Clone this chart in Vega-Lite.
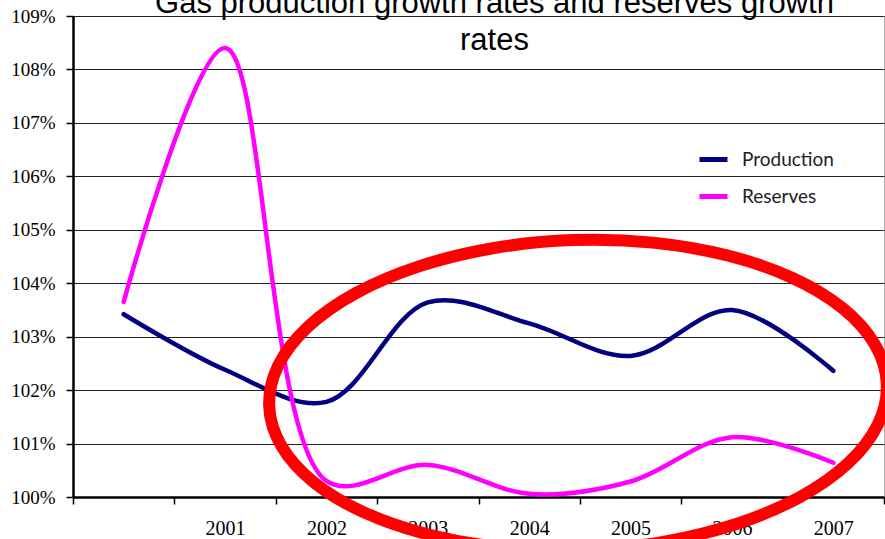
{
  "$schema": "https://vega.github.io/schema/vega-lite/v6.json",
  "width": 811,
  "height": 481,
  "autosize": {"type": "none"},
  "padding": {"left": 73, "top": 16, "right": 1, "bottom": 42},
  "background": "white",
  "config": {"view": {"stroke": "#b0b0b0", "strokeWidth": 1}},
  "title": {
    "text": ["Gas production growth rates and reserves growth", "rates"],
    "font": "Liberation Sans",
    "fontSize": 31,
    "fontWeight": "normal",
    "color": "#000000",
    "anchor": "middle",
    "lineHeight": 37,
    "offset": -50,
    "dx": 16
  },
  "datasets": {
    "series": [
      {"year": 2000, "value": 103.42, "series": "Production"},
      {"year": 2001, "value": 102.38, "series": "Production"},
      {"year": 2002, "value": 101.78, "series": "Production"},
      {"year": 2003, "value": 103.64, "series": "Production"},
      {"year": 2004, "value": 103.25, "series": "Production"},
      {"year": 2005, "value": 102.64, "series": "Production"},
      {"year": 2006, "value": 103.50, "series": "Production"},
      {"year": 2007, "value": 102.36, "series": "Production"},
      {"year": 2000, "value": 103.65, "series": "Reserves"},
      {"year": 2001, "value": 108.40, "series": "Reserves"},
      {"year": 2002, "value": 100.30, "series": "Reserves"},
      {"year": 2003, "value": 100.60, "series": "Reserves"},
      {"year": 2004, "value": 100.06, "series": "Reserves"},
      {"year": 2005, "value": 100.29, "series": "Reserves"},
      {"year": 2006, "value": 101.12, "series": "Reserves"},
      {"year": 2007, "value": 100.64, "series": "Reserves"}
    ],
    "ellipse": [
      {"k": 0, "year": 2007.528, "value": 102.110},
      {"k": 1, "year": 2007.410, "value": 102.853},
      {"k": 2, "year": 2007.093, "value": 103.532},
      {"k": 3, "year": 2006.598, "value": 104.099},
      {"k": 4, "year": 2005.958, "value": 104.518},
      {"k": 5, "year": 2005.219, "value": 104.760},
      {"k": 6, "year": 2004.428, "value": 104.807},
      {"k": 7, "year": 2003.641, "value": 104.655},
      {"k": 8, "year": 2002.912, "value": 104.316},
      {"k": 9, "year": 2002.290, "value": 103.815},
      {"k": 10, "year": 2001.817, "value": 103.184},
      {"k": 11, "year": 2001.525, "value": 102.464},
      {"k": 12, "year": 2001.435, "value": 101.706},
      {"k": 13, "year": 2001.553, "value": 100.963},
      {"k": 14, "year": 2001.870, "value": 100.284},
      {"k": 15, "year": 2002.365, "value": 99.717},
      {"k": 16, "year": 2003.005, "value": 99.298},
      {"k": 17, "year": 2003.744, "value": 99.056},
      {"k": 18, "year": 2004.535, "value": 99.009},
      {"k": 19, "year": 2005.322, "value": 99.161},
      {"k": 20, "year": 2006.051, "value": 99.500},
      {"k": 21, "year": 2006.673, "value": 100.001},
      {"k": 22, "year": 2007.146, "value": 100.632},
      {"k": 23, "year": 2007.438, "value": 101.352}
    ]
  },
  "encoding": {
    "y": {
      "field": "value",
      "type": "quantitative",
      "title": null,
      "scale": {"domain": [100, 109], "nice": false, "zero": false},
      "axis": {
        "values": [100, 101, 102, 103, 104, 105, 106, 107, 108, 109],
        "labelExpr": "datum.value + '%'",
        "labelFont": "Liberation Serif",
        "labelFontSize": 19,
        "labelColor": "#000000",
        "labelPadding": 11,
        "tickSize": 7,
        "tickColor": "#000000",
        "tickWidth": 1.5,
        "domainColor": "#000000",
        "domainWidth": 2.5,
        "grid": true,
        "gridColor": "#222222",
        "gridWidth": 1.2
      }
    }
  },
  "layer": [
    {
      "data": {"name": "series"},
      "mark": {"type": "line", "interpolate": "catmull-rom", "strokeWidth": 4.5, "strokeCap": "round"},
      "encoding": {
        "x": {
          "field": "year",
          "type": "quantitative",
          "title": null,
          "scale": {"domain": [1999.5, 2007.5], "nice": false, "zero": false},
          "axis": {
            "orient": "bottom",
            "values": [1999.5, 2000.5, 2001.5, 2002.5, 2003.5, 2004.5, 2005.5, 2006.5, 2007.5],
            "labels": false,
            "grid": false,
            "tickSize": 7,
            "tickColor": "#000000",
            "tickWidth": 1.5,
            "domainColor": "#000000",
            "domainWidth": 2.5
          }
        },
        "color": {
          "field": "series",
          "type": "nominal",
          "scale": {"domain": ["Production", "Reserves"], "range": ["#000080", "#ff00ff"]},
          "legend": {
            "title": null,
            "orient": "none",
            "legendX": 624,
            "legendY": 127,
            "symbolType": "stroke",
            "symbolSize": 784,
            "symbolStrokeWidth": 5,
            "labelFont": "Lato",
            "labelFontSize": 19,
            "labelColor": "#222222",
            "labelOffset": 12,
            "rowPadding": 10,
            "padding": 0
          }
        }
      }
    },
    {
      "data": {"name": "ellipse"},
      "mark": {"type": "line", "interpolate": "cardinal-closed", "strokeWidth": 12, "color": "#ff0000", "clip": false},
      "encoding": {
        "x": {
          "field": "year",
          "type": "quantitative",
          "title": null,
          "axis": {
            "orient": "bottom",
            "values": [2001, 2002, 2003, 2004, 2005, 2006, 2007],
            "format": "d",
            "ticks": false,
            "tickSize": 0,
            "domain": false,
            "grid": false,
            "labelFont": "Liberation Serif",
            "labelFontSize": 20,
            "labelColor": "#000000",
            "labelPadding": 21
          }
        },
        "order": {"field": "k", "type": "quantitative"}
      }
    }
  ],
  "resolve": {"axis": {"x": "independent"}}
}
